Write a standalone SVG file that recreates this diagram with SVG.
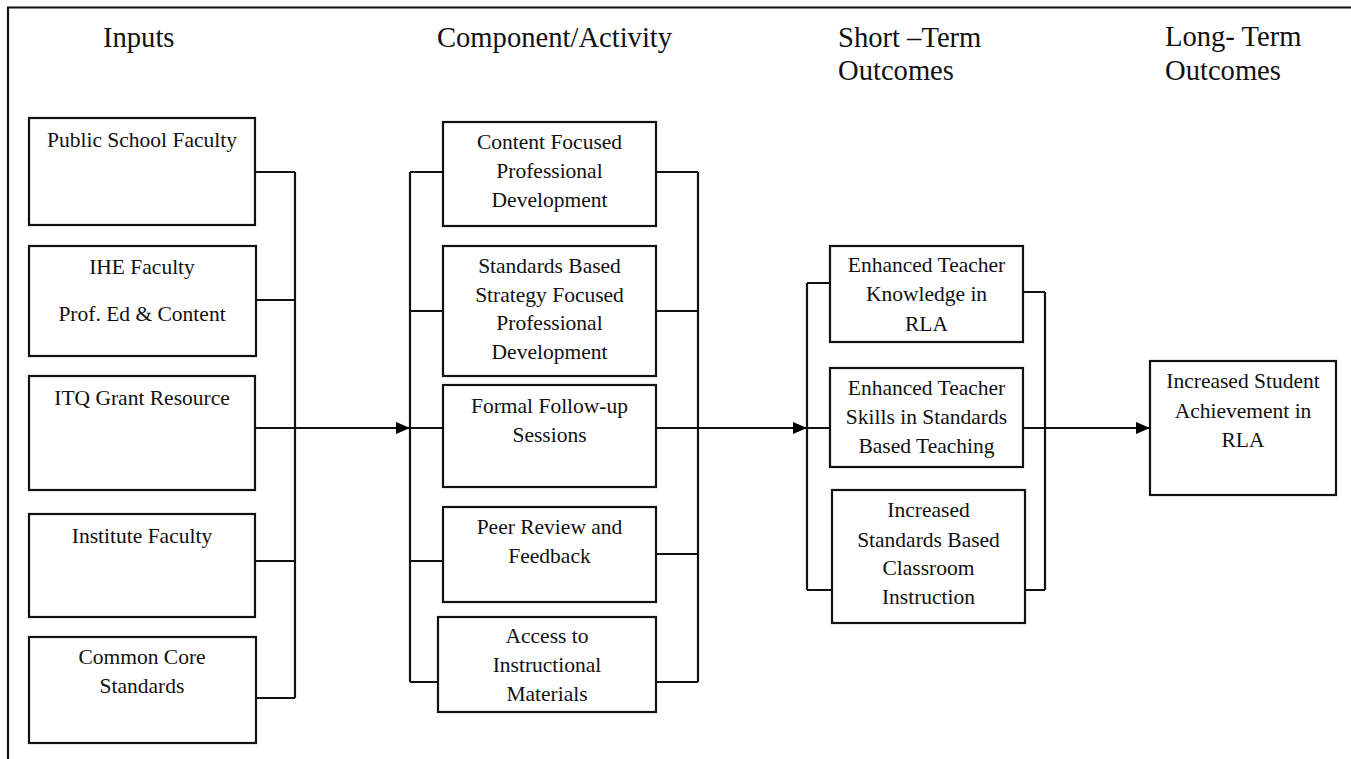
<svg xmlns="http://www.w3.org/2000/svg" width="1351" height="759" viewBox="0 0 1351 759">
<defs>
<marker id="arr" viewBox="0 0 14 12" refX="14" refY="6" markerWidth="14" markerHeight="12" markerUnits="userSpaceOnUse" orient="auto">
<path d="M0,0 L14,6 L0,12 Z" fill="#000"/>
</marker>
</defs>
<style>
.box{fill:#fff;stroke:#111;stroke-width:2.2}
.ln{fill:none;stroke:#111;stroke-width:2.2}
.t{font-family:"Liberation Serif","Times New Roman",serif;font-size:21.5px;fill:#111;text-anchor:middle}
.h{font-family:"Liberation Serif","Times New Roman",serif;font-size:28.6px;fill:#111}
</style>
<rect width="1351" height="759" fill="#fff"/>
<path class="ln" d="M8,759 V7.5 H1351" stroke-width="1.5"/>
<g id="headers">
<text class="h" x="103" y="47">Inputs</text>
<text class="h" x="437" y="47">Component/Activity</text>
<text class="h" x="838" y="47">Short –Term</text>
<text class="h" x="838" y="80">Outcomes</text>
<text class="h" x="1165" y="46">Long- Term</text>
<text class="h" x="1165" y="80">Outcomes</text>
</g>
<g id="connectors">
<path class="ln" d="M255,172 H295 M256,300 H295 M255,428 H295 M255,561 H295 M256,698 H295 M295,172 V698"/>
<path class="ln" d="M295,428 H410" marker-end="url(#arr)"/>
<path class="ln" d="M410,172 V682 M410,172 H443 M410,311 H443 M410,428 H443 M410,561 H443 M410,682 H438"/>
<path class="ln" d="M656,172 H698 M656,311 H698 M656,428 H698 M656,554 H698 M656,682 H698 M698,172 V682"/>
<path class="ln" d="M698,428 H807" marker-end="url(#arr)"/>
<path class="ln" d="M807,283 V590 M807,283 H830 M807,428 H830 M807,590 H832"/>
<path class="ln" d="M1023,292 H1045 M1023,428 H1045 M1025,590 H1045 M1045,292 V590"/>
<path class="ln" d="M1045,428 H1150" marker-end="url(#arr)"/>
</g>
<g id="n-public">
<rect class="box" x="29" y="118" width="226" height="107"/>
<text class="t" x="142" y="147">Public School Faculty</text>
</g>
<g id="n-ihe">
<rect class="box" x="29" y="246" width="227" height="110"/>
<text class="t" x="142" y="274">IHE Faculty</text>
<text class="t" x="142" y="321">Prof. Ed &amp; Content</text>
</g>
<g id="n-itq">
<rect class="box" x="29" y="376" width="226" height="114"/>
<text class="t" x="142" y="405">ITQ Grant Resource</text>
</g>
<g id="n-institute">
<rect class="box" x="29" y="514" width="226" height="103"/>
<text class="t" x="142" y="543">Institute Faculty</text>
</g>
<g id="n-common">
<rect class="box" x="29" y="637" width="227" height="106"/>
<text class="t" x="142" y="664">Common Core</text>
<text class="t" x="142" y="693">Standards</text>
</g>
<g id="n-content">
<rect class="box" x="443" y="122" width="213" height="104"/>
<text class="t" x="549.5" y="149">Content Focused</text>
<text class="t" x="549.5" y="178">Professional</text>
<text class="t" x="549.5" y="207">Development</text>
</g>
<g id="n-standards">
<rect class="box" x="443" y="246" width="213" height="130"/>
<text class="t" x="549.5" y="273">Standards Based</text>
<text class="t" x="549.5" y="302">Strategy Focused</text>
<text class="t" x="549.5" y="330">Professional</text>
<text class="t" x="549.5" y="359">Development</text>
</g>
<g id="n-formal">
<rect class="box" x="443" y="385" width="213" height="102"/>
<text class="t" x="549.5" y="413">Formal Follow-up</text>
<text class="t" x="549.5" y="442">Sessions</text>
</g>
<g id="n-peer">
<rect class="box" x="443" y="507" width="213" height="95"/>
<text class="t" x="549.5" y="534">Peer Review and</text>
<text class="t" x="549.5" y="563">Feedback</text>
</g>
<g id="n-access">
<rect class="box" x="438" y="617" width="218" height="95"/>
<text class="t" x="547" y="643">Access to</text>
<text class="t" x="547" y="672">Instructional</text>
<text class="t" x="547" y="701">Materials</text>
</g>
<g id="n-knowledge">
<rect class="box" x="830" y="246" width="193" height="96"/>
<text class="t" x="926.5" y="272">Enhanced Teacher</text>
<text class="t" x="926.5" y="301">Knowledge in</text>
<text class="t" x="926.5" y="331">RLA</text>
</g>
<g id="n-skills">
<rect class="box" x="830" y="368" width="193" height="99"/>
<text class="t" x="926.5" y="395">Enhanced Teacher</text>
<text class="t" x="926.5" y="424">Skills in Standards</text>
<text class="t" x="926.5" y="453">Based Teaching</text>
</g>
<g id="n-increased">
<rect class="box" x="832" y="490" width="193" height="133"/>
<text class="t" x="928.5" y="517">Increased</text>
<text class="t" x="928.5" y="547">Standards Based</text>
<text class="t" x="928.5" y="575">Classroom</text>
<text class="t" x="928.5" y="604">Instruction</text>
</g>
<g id="n-student">
<rect class="box" x="1150" y="361" width="186" height="134"/>
<text class="t" x="1243" y="388">Increased Student</text>
<text class="t" x="1243" y="418">Achievement in</text>
<text class="t" x="1243" y="447">RLA</text>
</g>
</svg>
